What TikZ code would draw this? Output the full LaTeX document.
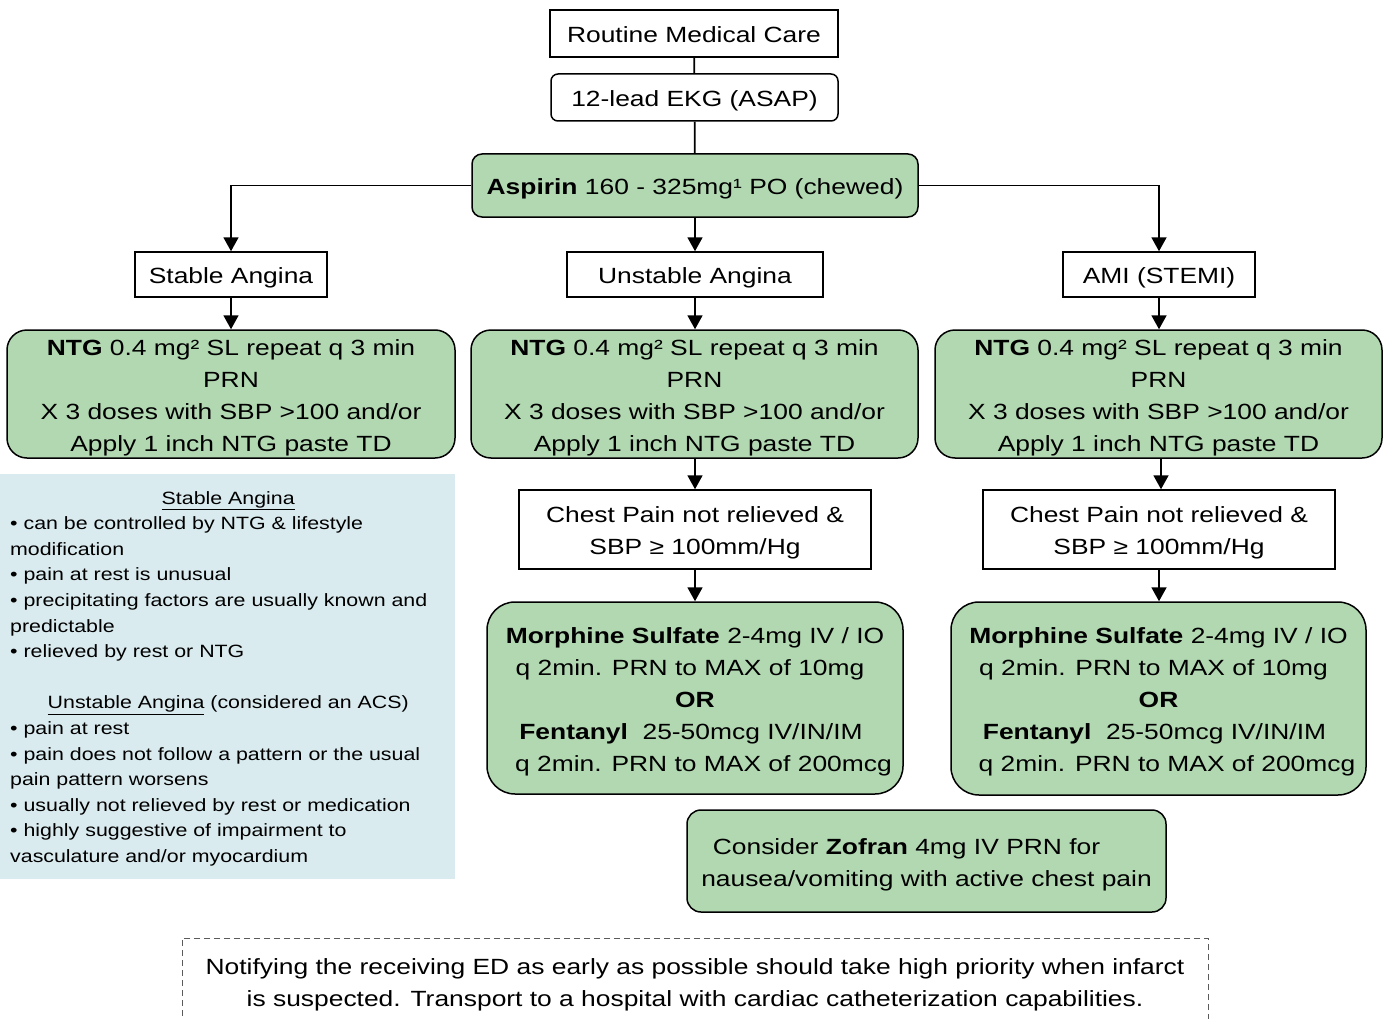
\documentclass[tikz,border=0pt]{standalone}
\usepackage{fontspec}
\setmainfont[FakeStretch=1.2]{Liberation Sans}
\usetikzlibrary{arrows.meta}
\definecolor{boxgreen}{RGB}{178,216,178}
\definecolor{infoblue}{RGB}{218,235,239}
\definecolor{dashgray}{RGB}{90,90,90}
\newcommand\fst{\rule{0pt}{24pt}}
\newcommand\lst{\rule[-6pt]{0pt}{0pt}}
\begin{document}
\begin{tikzpicture}[x=1pt,y=-1pt,
  every node/.style={font=\fontsize{22}{32}\selectfont, inner sep=0pt, align=center},
  sqbox/.style={draw, line width=1.5pt, fill=white},
  rbox/.style={draw, line width=1.5pt, fill=white, rounded corners=7pt},
  gbox/.style={draw, line width=1.5pt, fill=boxgreen, rounded corners=#1},
  gbox/.default=20pt,
  conn/.style={line width=1.8pt},
  arr/.style={line width=1.8pt, -{Triangle[width=15pt,length=14pt]}}
]
\clip (0,0) rectangle (1383,1019);
\fill[white] (0,0) rectangle (1383,1019);

% info box
\fill[infoblue] (0,474) rectangle (455,879);
\node[anchor=north west, text width=436pt, align=left, font=\fontsize{17.8}{25.6}\selectfont] (info) at (10,491) {%
\makebox[436pt]{\underline{Stable Angina}}\\
• can be controlled by NTG \& lifestyle\\
modification\\
• pain at rest is unusual\\
• precipitating factors are usually known and\\
predictable\\
• relieved by rest or NTG\\[25.6pt]
\makebox[436pt]{\underline{Unstable Angina} (considered an ACS)}\\
• pain at rest\\
• pain does not follow a pattern or the usual\\
pain pattern worsens\\
• usually not relieved by rest or medication\\
• highly suggestive of impairment to\\
vasculature and/or myocardium};

% top chain
\node[sqbox, minimum width=288pt, minimum height=47pt] (rmc) at (694,33.5) {\fst Routine Medical Care\lst};
\node[rbox, minimum width=287pt, minimum height=47pt] (ekg) at (694.5,97.5) {\fst 12-lead EKG (ASAP)\lst};
\node[gbox=10pt, minimum width=446pt, minimum height=63pt] (asp) at (695,185.5) {\fst\textbf{Aspirin} 160 - 325mg¹ PO (chewed)\lst};

% angina types
\node[sqbox, minimum width=192pt, minimum height=45pt] (stable) at (231,274.5) {\fst Stable Angina\lst};
\node[sqbox, minimum width=256pt, minimum height=45pt] (unstable) at (695,274.5) {\fst Unstable Angina\lst};
\node[sqbox, minimum width=192pt, minimum height=45pt] (ami) at (1159,274.5) {\fst AMI (STEMI)\lst};

% NTG boxes
\node[gbox, minimum width=448pt, minimum height=128pt] (ntg1) at (231,394) {\fst\textbf{NTG} 0.4 mg² SL repeat q 3 min\\PRN\\X 3 doses with SBP >100 and/or\\Apply 1 inch NTG paste TD\lst};
\node[gbox, minimum width=447pt, minimum height=128pt] (ntg2) at (694.5,394) {\fst\textbf{NTG} 0.4 mg² SL repeat q 3 min\\PRN\\X 3 doses with SBP >100 and/or\\Apply 1 inch NTG paste TD\lst};
\node[gbox, minimum width=447pt, minimum height=128pt] (ntg3) at (1158.5,394) {\fst\textbf{NTG} 0.4 mg² SL repeat q 3 min\\PRN\\X 3 doses with SBP >100 and/or\\Apply 1 inch NTG paste TD\lst};

% chest pain
\node[sqbox, minimum width=352pt, minimum height=79pt] (cp2) at (695,529.5) {\fst Chest Pain not relieved \&\\SBP ≥ 100mm/Hg\lst};
\node[sqbox, minimum width=352pt, minimum height=79pt] (cp3) at (1159,529.5) {\fst Chest Pain not relieved \&\\SBP ≥ 100mm/Hg\lst};

% morphine
\node[gbox=28pt, minimum width=416pt, minimum height=192pt] (mor2) at (695,698) {\fst\textbf{Morphine Sulfate} 2-4mg IV / IO\\q 2min. PRN to MAX of 10mg\rule{10pt}{0pt}\\\textbf{OR}\\\textbf{Fentanyl}\ \ 25-50mcg IV/IN/IM\rule{8pt}{0pt}\\\hspace*{17pt}q 2min. PRN to MAX of 200mcg\lst};
\node[gbox=28pt, minimum width=415pt, minimum height=193pt] (mor3) at (1158.5,698.5) {\fst\textbf{Morphine Sulfate} 2-4mg IV / IO\\q 2min. PRN to MAX of 10mg\rule{10pt}{0pt}\\\textbf{OR}\\\textbf{Fentanyl}\ \ 25-50mcg IV/IN/IM\rule{8pt}{0pt}\\\hspace*{17pt}q 2min. PRN to MAX of 200mcg\lst};

% zofran
\node[gbox=14pt, minimum width=479pt, minimum height=102pt] (zof) at (926.5,861) {\fst Consider \textbf{Zofran} 4mg IV PRN for\hspace*{40pt}\\nausea/vomiting with active chest pain\lst};

% note
\node[draw=dashgray, line width=1pt, dash pattern=on 6pt off 4pt, minimum width=1026pt, minimum height=86pt] (note) at (695,981) {\fst Notifying the receiving ED as early as possible should take high priority when infarct\\is suspected. Transport to a hospital with cardiac catheterization capabilities.\lst};

% connectors
\draw[conn] (rmc) -- (ekg);
\draw[conn] (ekg) -- (asp);
\draw[arr] (asp.west) -| (stable.north);
\draw[arr] (asp.east) -| (ami.north);
\draw[arr] (asp.south) -- (unstable.north);
\draw[arr] (stable.south) -- (ntg1.north);
\draw[arr] (unstable.south) -- (unstable.south |- ntg2.north);
\draw[arr] (ami.south) -- (ami.south |- ntg3.north);
\draw[arr] (cp2.north |- ntg2.south) -- (cp2.north);
\draw[arr] (ntg3.south -| 1161,0) -- (cp3.north -| 1161,0);
\draw[arr] (cp2.south) -- (mor2.north);
\draw[arr] (cp3.south) -- (cp3.south |- mor3.north);
\end{tikzpicture}
\end{document}
